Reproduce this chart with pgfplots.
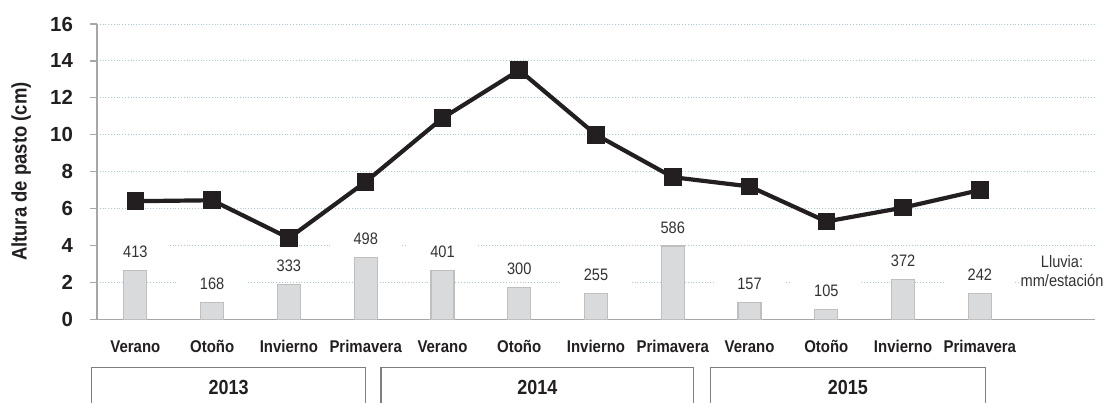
\documentclass[border=0pt]{standalone}
\usepackage{fontspec}
\setmainfont{Liberation Sans}[FakeStretch=0.88]
\newfontfamily\numfont{Liberation Sans}
\usepackage{pgfplots}
\usepackage{pgfplotstable}
\pgfplotsset{compat=1.18}
\definecolor{ink}{HTML}{231F20}
\definecolor{axisgray}{HTML}{A6A6A6}
\definecolor{gridblue}{HTML}{A9C8E8}
\definecolor{barfill}{HTML}{D9DADC}
\definecolor{bardraw}{HTML}{BFBFBF}
\definecolor{boxgray}{HTML}{7F7F7F}
\definecolor{labelgray}{HTML}{333333}

% x = estación, h = alto de barra (lluvia escalada), rain = mm, alt = altura de pasto
\pgfplotstableread{
x h rain alt
0 2.64 413 6.4
1 0.92 168 6.45
2 1.88 333 4.4
3 3.36 498 7.45
4 2.64 401 10.9
5 1.73 300 13.5
6 1.41 255 10.0
7 3.97 586 7.7
8 0.92 157 7.2
9 0.54 105 5.3
10 2.17 372 6.05
11 1.41 242 7.0
}\datos

\begin{document}
\begin{tikzpicture}
\begin{axis}[
  scale only axis, width=499pt, height=147.65pt,
  xmin=-0.5, xmax=12.5, ymin=0, ymax=16,
  axis x line*=bottom, axis y line*=left,
  axis line style={-, draw=axisgray, line width=0.6pt},
  ytick={0,2,...,16},
  ymajorgrids, major grid style={densely dotted, gridblue, line width=0.5pt},
  xtick={0,...,11},
  xticklabels={Verano,Otoño,Invierno,Primavera,Verano,Otoño,Invierno,Primavera,Verano,Otoño,Invierno,Primavera},
  x tick style={draw=none},
  y tick style={draw=axisgray, line width=0.6pt},
  tick align=outside, major tick length=3.5pt,
  xticklabel style={font=\fontsize{8.5}{10}\selectfont\bfseries, text=ink, yshift=-3.5pt},
  yticklabel style={font=\numfont\fontsize{10.2}{12}\selectfont\bfseries, text=ink, xshift=-5pt},
  /pgf/number format/assume math mode=true,
  ylabel={Altura de pasto (cm)},
  ylabel style={font=\fontsize{10.5}{12}\selectfont\bfseries, text=ink,
    at={(axis description cs:-0.076,0.5)}, anchor=center},
  clip=false,
]
\addplot[ybar, bar width=11.5pt, bar shift=0pt, fill=barfill, draw=bardraw, line width=0.6pt,
  point meta=explicit symbolic, nodes near coords,
  nodes near coords style={font=\fontsize{8.3}{10}\selectfont, text=labelgray, fill=white,
    inner sep=0pt, minimum width=35pt, minimum height=13.5pt, anchor=south, yshift=2.25pt}]
  table[x=x, y=h, meta=rain] {\datos};
\addplot[ink, line width=2.1pt, mark=square*, mark size=3.35pt, mark options={solid, fill=ink}]
  table[x=x, y=alt] {\datos};

\node[font=\fontsize{8.3}{9.5}\selectfont, text=labelgray, fill=white, align=center, inner sep=1pt]
  at (axis cs:12.07,2.59) {Lluvia:\\mm/estación};

\draw[boxgray, line width=0.6pt] (axis cs:-0.57,-4.535) |- (axis cs:3.0,-2.62) -- (axis cs:3.0,-4.535);
\draw[boxgray, line width=0.6pt] (axis cs:3.2,-4.535) |- (axis cs:7.27,-2.62) -- (axis cs:7.27,-4.535);
\draw[boxgray, line width=0.6pt] (axis cs:7.49,-4.535) |- (axis cs:11.07,-2.62) -- (axis cs:11.07,-4.535);
\node[font=\fontsize{10.2}{12}\selectfont\bfseries, text=ink] at (axis cs:1.215,-3.67) {2013};
\node[font=\fontsize{10.2}{12}\selectfont\bfseries, text=ink] at (axis cs:5.235,-3.67) {2014};
\node[font=\fontsize{10.2}{12}\selectfont\bfseries, text=ink] at (axis cs:9.28,-3.67) {2015};
\end{axis}
\pgfresetboundingbox
\path[use as bounding box] (-48.5pt,-41.85pt) rectangle (507pt,159.65pt);
\end{tikzpicture}
\end{document}
